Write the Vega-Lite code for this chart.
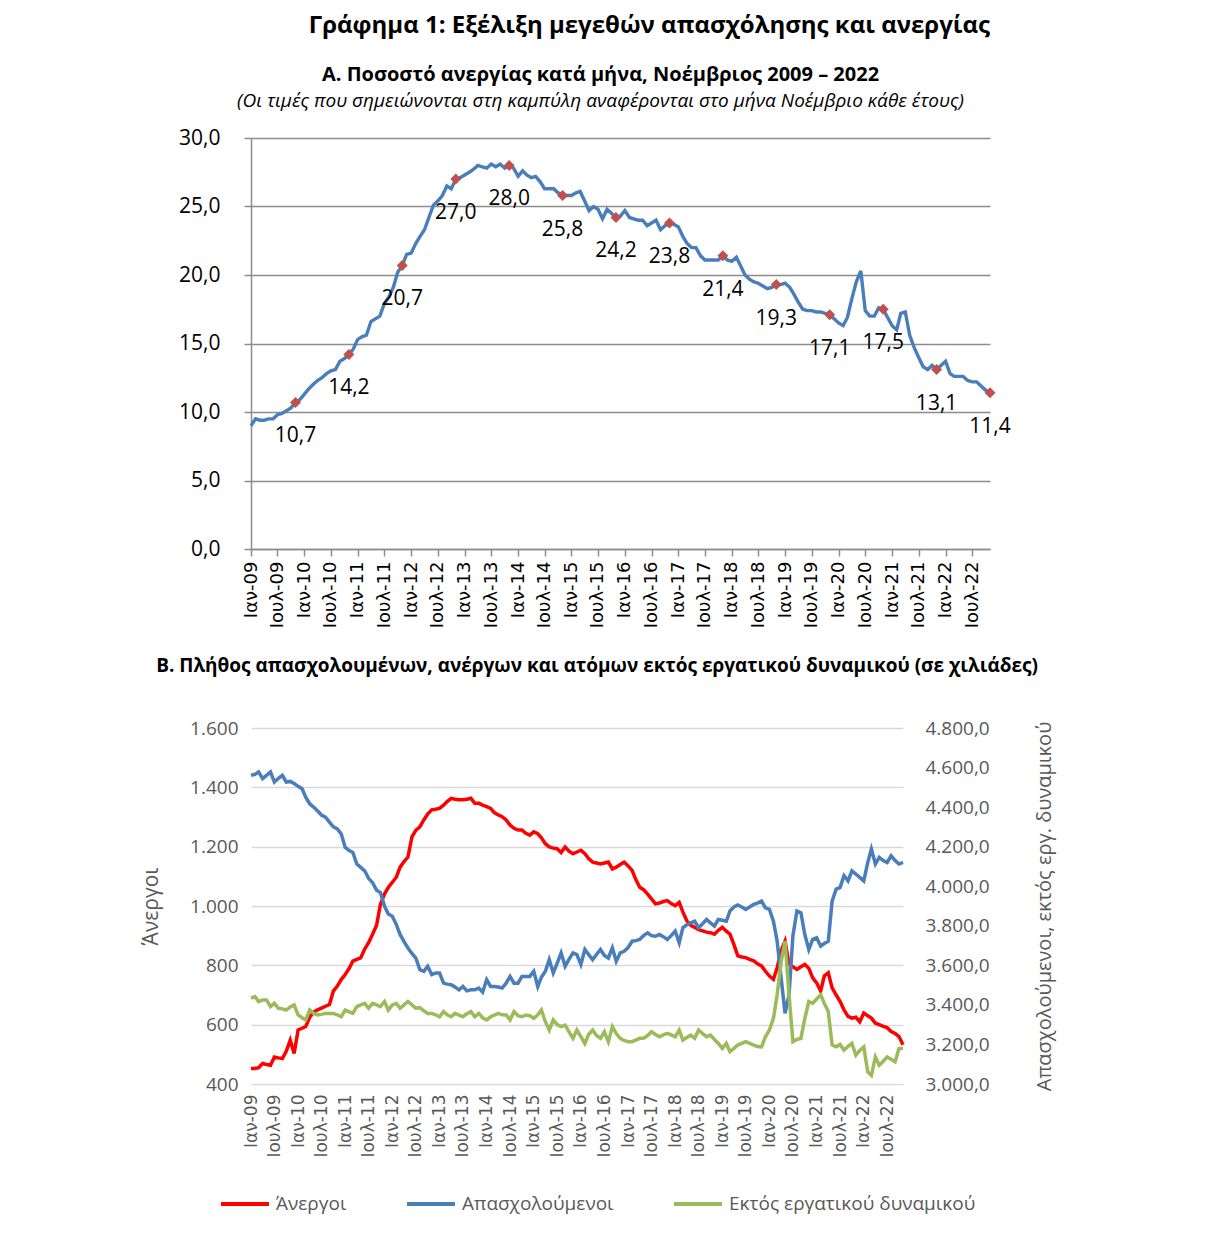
{
  "$schema": "https://vega.github.io/schema/vega-lite/v6.json",
  "padding": {"left": 140, "top": 14, "right": 10, "bottom": 10},
  "background": "white",
  "title": {"text": "Γράφημα 1: Εξέλιξη μεγεθών απασχόλησης και ανεργίας", "fontSize": 24, "fontWeight": "bold", "font": "Open Sans", "color": "black", "anchor": "middle", "offset": 27, "dx": 52},
  "data": {
    "format": {"parse": {"date": "utc:'%Y-%m'"}},
    "values": [
      {"date":"2009-01","u":9.0,"a":452,"e":4561,"o":3434},
      {"date":"2009-02","u":9.5,"a":452,"e":4565,"o":3442},
      {"date":"2009-03","u":9.4,"a":455,"e":4578,"o":3417},
      {"date":"2009-04","u":9.4,"a":469,"e":4544,"o":3425},
      {"date":"2009-05","u":9.5,"a":466,"e":4560,"o":3425},
      {"date":"2009-06","u":9.5,"a":463,"e":4578,"o":3391},
      {"date":"2009-07","u":9.8,"a":491,"e":4527,"o":3408},
      {"date":"2009-08","u":9.9,"a":488,"e":4545,"o":3383},
      {"date":"2009-09","u":10.1,"a":486,"e":4561,"o":3380},
      {"date":"2009-10","u":10.3,"a":510,"e":4527,"o":3374},
      {"date":"2009-11","u":10.7,"a":548,"e":4530,"o":3390},
      {"date":"2009-12","u":10.9,"a":503,"e":4519,"o":3400},
      {"date":"2010-01","u":11.3,"a":582,"e":4505,"o":3349},
      {"date":"2010-02","u":11.7,"a":588,"e":4493,"o":3335},
      {"date":"2010-03","u":12.0,"a":594,"e":4450,"o":3324},
      {"date":"2010-04","u":12.3,"a":625,"e":4417,"o":3374},
      {"date":"2010-05","u":12.5,"a":642,"e":4400,"o":3357},
      {"date":"2010-06","u":12.8,"a":650,"e":4380,"o":3349},
      {"date":"2010-07","u":13.0,"a":656,"e":4360,"o":3352},
      {"date":"2010-08","u":13.1,"a":662,"e":4349,"o":3357},
      {"date":"2010-09","u":13.7,"a":668,"e":4324,"o":3357},
      {"date":"2010-10","u":13.9,"a":713,"e":4300,"o":3357},
      {"date":"2010-11","u":14.2,"a":730,"e":4290,"o":3350},
      {"date":"2010-12","u":14.6,"a":752,"e":4265,"o":3340},
      {"date":"2011-01","u":15.3,"a":769,"e":4196,"o":3374},
      {"date":"2011-02","u":15.5,"a":790,"e":4180,"o":3365},
      {"date":"2011-03","u":15.6,"a":814,"e":4171,"o":3357},
      {"date":"2011-04","u":16.6,"a":820,"e":4112,"o":3391},
      {"date":"2011-05","u":16.8,"a":825,"e":4095,"o":3400},
      {"date":"2011-06","u":17.0,"a":855,"e":4078,"o":3408},
      {"date":"2011-07","u":17.9,"a":876,"e":4040,"o":3383},
      {"date":"2011-08","u":18.4,"a":905,"e":4018,"o":3408},
      {"date":"2011-09","u":19.1,"a":935,"e":3980,"o":3400},
      {"date":"2011-10","u":20.2,"a":1006,"e":3968,"o":3391},
      {"date":"2011-11","u":20.7,"a":1040,"e":3900,"o":3417},
      {"date":"2011-12","u":21.5,"a":1063,"e":3860,"o":3374},
      {"date":"2012-01","u":21.6,"a":1080,"e":3848,"o":3400},
      {"date":"2012-02","u":22.3,"a":1097,"e":3806,"o":3408},
      {"date":"2012-03","u":22.8,"a":1131,"e":3756,"o":3383},
      {"date":"2012-04","u":23.3,"a":1150,"e":3720,"o":3400},
      {"date":"2012-05","u":24.2,"a":1165,"e":3688,"o":3417},
      {"date":"2012-06","u":25.1,"a":1233,"e":3660,"o":3400},
      {"date":"2012-07","u":25.4,"a":1255,"e":3637,"o":3383},
      {"date":"2012-08","u":25.8,"a":1267,"e":3578,"o":3386},
      {"date":"2012-09","u":26.5,"a":1290,"e":3570,"o":3370},
      {"date":"2012-10","u":26.3,"a":1310,"e":3595,"o":3357},
      {"date":"2012-11","u":27.0,"a":1324,"e":3553,"o":3357},
      {"date":"2012-12","u":27.1,"a":1326,"e":3561,"o":3350},
      {"date":"2013-01","u":27.3,"a":1329,"e":3561,"o":3340},
      {"date":"2013-02","u":27.5,"a":1340,"e":3510,"o":3366},
      {"date":"2013-03","u":27.7,"a":1352,"e":3505,"o":3350},
      {"date":"2013-04","u":28.0,"a":1363,"e":3502,"o":3340},
      {"date":"2013-05","u":27.9,"a":1360,"e":3490,"o":3357},
      {"date":"2013-06","u":27.8,"a":1358,"e":3476,"o":3348},
      {"date":"2013-07","u":28.1,"a":1358,"e":3493,"o":3340},
      {"date":"2013-08","u":27.9,"a":1360,"e":3471,"o":3355},
      {"date":"2013-09","u":28.1,"a":1363,"e":3476,"o":3366},
      {"date":"2013-10","u":27.8,"a":1346,"e":3476,"o":3340},
      {"date":"2013-11","u":28.0,"a":1346,"e":3485,"o":3357},
      {"date":"2013-12","u":27.8,"a":1340,"e":3464,"o":3335},
      {"date":"2014-01","u":27.2,"a":1335,"e":3527,"o":3324},
      {"date":"2014-02","u":27.6,"a":1329,"e":3493,"o":3340},
      {"date":"2014-03","u":27.3,"a":1315,"e":3493,"o":3348},
      {"date":"2014-04","u":27.1,"a":1307,"e":3490,"o":3357},
      {"date":"2014-05","u":27.2,"a":1301,"e":3485,"o":3350},
      {"date":"2014-06","u":26.8,"a":1290,"e":3510,"o":3349},
      {"date":"2014-07","u":26.3,"a":1273,"e":3544,"o":3324},
      {"date":"2014-08","u":26.3,"a":1262,"e":3510,"o":3366},
      {"date":"2014-09","u":26.3,"a":1256,"e":3510,"o":3345},
      {"date":"2014-10","u":26.0,"a":1256,"e":3544,"o":3340},
      {"date":"2014-11","u":25.8,"a":1245,"e":3544,"o":3349},
      {"date":"2014-12","u":25.8,"a":1239,"e":3544,"o":3345},
      {"date":"2015-01","u":25.8,"a":1250,"e":3570,"o":3332},
      {"date":"2015-02","u":26.0,"a":1244,"e":3493,"o":3350},
      {"date":"2015-03","u":26.1,"a":1230,"e":3540,"o":3374},
      {"date":"2015-04","u":25.4,"a":1210,"e":3570,"o":3315},
      {"date":"2015-05","u":24.7,"a":1199,"e":3629,"o":3273},
      {"date":"2015-06","u":25.0,"a":1195,"e":3561,"o":3324},
      {"date":"2015-07","u":24.8,"a":1193,"e":3610,"o":3300},
      {"date":"2015-08","u":24.1,"a":1180,"e":3663,"o":3290},
      {"date":"2015-09","u":24.8,"a":1199,"e":3595,"o":3298},
      {"date":"2015-10","u":24.5,"a":1185,"e":3630,"o":3264},
      {"date":"2015-11","u":24.2,"a":1176,"e":3663,"o":3231},
      {"date":"2015-12","u":24.3,"a":1182,"e":3654,"o":3273},
      {"date":"2016-01","u":24.7,"a":1188,"e":3604,"o":3240},
      {"date":"2016-02","u":24.2,"a":1176,"e":3680,"o":3205},
      {"date":"2016-03","u":24.1,"a":1160,"e":3655,"o":3250},
      {"date":"2016-04","u":24.0,"a":1148,"e":3629,"o":3273},
      {"date":"2016-05","u":24.0,"a":1145,"e":3655,"o":3245},
      {"date":"2016-06","u":23.6,"a":1142,"e":3680,"o":3231},
      {"date":"2016-07","u":23.8,"a":1145,"e":3650,"o":3264},
      {"date":"2016-08","u":24.0,"a":1148,"e":3637,"o":3214},
      {"date":"2016-09","u":23.3,"a":1125,"e":3688,"o":3290},
      {"date":"2016-10","u":23.6,"a":1131,"e":3620,"o":3255},
      {"date":"2016-11","u":23.8,"a":1140,"e":3663,"o":3231},
      {"date":"2016-12","u":23.7,"a":1148,"e":3671,"o":3220},
      {"date":"2017-01","u":23.5,"a":1135,"e":3690,"o":3214},
      {"date":"2017-02","u":22.8,"a":1120,"e":3722,"o":3214},
      {"date":"2017-03","u":22.3,"a":1090,"e":3725,"o":3222},
      {"date":"2017-04","u":22.0,"a":1063,"e":3731,"o":3231},
      {"date":"2017-05","u":22.0,"a":1055,"e":3750,"o":3231},
      {"date":"2017-06","u":21.4,"a":1040,"e":3764,"o":3245},
      {"date":"2017-07","u":21.1,"a":1024,"e":3750,"o":3264},
      {"date":"2017-08","u":21.1,"a":1007,"e":3747,"o":3250},
      {"date":"2017-09","u":21.1,"a":1010,"e":3756,"o":3239},
      {"date":"2017-10","u":21.1,"a":1015,"e":3745,"o":3248},
      {"date":"2017-11","u":21.4,"a":1018,"e":3731,"o":3256},
      {"date":"2017-12","u":21.1,"a":1008,"e":3750,"o":3248},
      {"date":"2018-01","u":21.0,"a":1001,"e":3773,"o":3239},
      {"date":"2018-02","u":21.3,"a":1012,"e":3714,"o":3273},
      {"date":"2018-03","u":20.7,"a":980,"e":3790,"o":3222},
      {"date":"2018-04","u":20.0,"a":950,"e":3805,"o":3235},
      {"date":"2018-05","u":19.7,"a":935,"e":3815,"o":3247},
      {"date":"2018-06","u":19.5,"a":928,"e":3823,"o":3231},
      {"date":"2018-07","u":19.4,"a":920,"e":3790,"o":3273},
      {"date":"2018-08","u":19.2,"a":916,"e":3810,"o":3255},
      {"date":"2018-09","u":19.0,"a":912,"e":3832,"o":3239},
      {"date":"2018-10","u":19.1,"a":910,"e":3815,"o":3247},
      {"date":"2018-11","u":19.3,"a":905,"e":3798,"o":3225},
      {"date":"2018-12","u":19.3,"a":918,"e":3832,"o":3205},
      {"date":"2019-01","u":19.4,"a":928,"e":3828,"o":3180},
      {"date":"2019-02","u":19.1,"a":915,"e":3823,"o":3205},
      {"date":"2019-03","u":18.6,"a":905,"e":3875,"o":3163},
      {"date":"2019-04","u":18.0,"a":870,"e":3895,"o":3180},
      {"date":"2019-05","u":17.5,"a":832,"e":3905,"o":3197},
      {"date":"2019-06","u":17.4,"a":828,"e":3895,"o":3205},
      {"date":"2019-07","u":17.4,"a":826,"e":3883,"o":3214},
      {"date":"2019-08","u":17.3,"a":820,"e":3895,"o":3205},
      {"date":"2019-09","u":17.3,"a":815,"e":3908,"o":3197},
      {"date":"2019-10","u":17.2,"a":805,"e":3915,"o":3190},
      {"date":"2019-11","u":17.1,"a":798,"e":3925,"o":3188},
      {"date":"2019-12","u":16.8,"a":780,"e":3891,"o":3239},
      {"date":"2020-01","u":16.5,"a":764,"e":3883,"o":3273},
      {"date":"2020-02","u":16.3,"a":753,"e":3823,"o":3332},
      {"date":"2020-03","u":16.9,"a":792,"e":3722,"o":3451},
      {"date":"2020-04","u":18.3,"a":850,"e":3535,"o":3620},
      {"date":"2020-05","u":19.5,"a":882,"e":3357,"o":3722},
      {"date":"2020-06","u":20.3,"a":803,"e":3451,"o":3451},
      {"date":"2020-07","u":17.4,"a":795,"e":3750,"o":3214},
      {"date":"2020-08","u":17.0,"a":786,"e":3875,"o":3225},
      {"date":"2020-09","u":17.0,"a":795,"e":3866,"o":3231},
      {"date":"2020-10","u":17.6,"a":803,"e":3756,"o":3330},
      {"date":"2020-11","u":17.5,"a":790,"e":3680,"o":3417},
      {"date":"2020-12","u":16.9,"a":758,"e":3731,"o":3408},
      {"date":"2021-01","u":16.3,"a":741,"e":3739,"o":3430},
      {"date":"2021-02","u":16.0,"a":713,"e":3697,"o":3451},
      {"date":"2021-03","u":17.2,"a":764,"e":3710,"o":3408},
      {"date":"2021-04","u":17.3,"a":775,"e":3722,"o":3366},
      {"date":"2021-05","u":15.6,"a":724,"e":3925,"o":3197},
      {"date":"2021-06","u":14.7,"a":700,"e":3985,"o":3188},
      {"date":"2021-07","u":14.0,"a":679,"e":3993,"o":3200},
      {"date":"2021-08","u":13.3,"a":650,"e":4053,"o":3171},
      {"date":"2021-09","u":13.1,"a":628,"e":4027,"o":3190},
      {"date":"2021-10","u":13.4,"a":622,"e":4078,"o":3205},
      {"date":"2021-11","u":13.1,"a":625,"e":4061,"o":3146},
      {"date":"2021-12","u":13.4,"a":610,"e":4045,"o":3170},
      {"date":"2022-01","u":13.7,"a":639,"e":4027,"o":3188},
      {"date":"2022-02","u":12.8,"a":630,"e":4120,"o":3061},
      {"date":"2022-03","u":12.6,"a":622,"e":4188,"o":3044},
      {"date":"2022-04","u":12.6,"a":605,"e":4112,"o":3137},
      {"date":"2022-05","u":12.6,"a":600,"e":4146,"o":3095},
      {"date":"2022-06","u":12.3,"a":594,"e":4130,"o":3115},
      {"date":"2022-07","u":12.2,"a":590,"e":4120,"o":3137},
      {"date":"2022-08","u":12.2,"a":577,"e":4154,"o":3125},
      {"date":"2022-09","u":11.9,"a":570,"e":4130,"o":3112},
      {"date":"2022-10","u":11.6,"a":560,"e":4112,"o":3180},
      {"date":"2022-11","u":11.4,"a":532,"e":4120,"o":3180}
    ]
  },
  "config": {
    "locale": {"number": {"decimal": ",", "thousands": ".", "grouping": [3], "currency": ["", " €"]}},
    "view": {"stroke": null},
    "font": "Open Sans",
    "concat": {"spacing": 179},
    "legend": {"layout": {"bottom": {"anchor": "middle"}}}
  },
  "bounds": "flush",
  "vconcat": [
    {
      "width": 739,
      "height": 411,
      "title": {
        "text": "Α. Ποσοστό ανεργίας κατά μήνα, Νοέμβριος 2009 – 2022",
        "subtitle": "(Οι τιμές που σημειώνονται στη καμπύλη αναφέρονται στο μήνα Νοέμβριο κάθε έτους)",
        "fontSize": 20, "fontWeight": "bold", "color": "black",
        "subtitleFontSize": 19, "subtitleFontStyle": "italic", "subtitleColor": "black",
        "subtitlePadding": 7, "offset": 16, "anchor": "middle", "dx": -20
      },
      "encoding": {
        "x": {
          "field": "date", "type": "temporal",
          "scale": {"type": "utc", "nice": false},
          "axis": {
            "title": null,
            "tickCount": {"interval": "month", "step": 6},
            "labelExpr": "(utcmonth(datum.value) == 0 ? 'Ιαν-' : 'Ιουλ-') + utcFormat(datum.value, '%y')",
            "labelAngle": -90, "labelFont": "DejaVu Sans", "labelFontSize": 18, "labelColor": "black",
            "labelFlush": false, "labelOverlap": false, "labelPadding": 5,
            "grid": false, "domainColor": "#8C8C8C", "domainWidth": 1.5,
            "tickColor": "#8C8C8C", "tickSize": 7, "tickWidth": 1.5
          }
        }
      },
      "layer": [
        {
          "mark": {"type": "line", "color": "#4A7EBB", "strokeWidth": 3.4},
          "encoding": {
            "y": {
              "field": "u", "type": "quantitative",
              "scale": {"domain": [0, 30]},
              "axis": {
                "title": null, "values": [0, 5, 10, 15, 20, 25, 30], "format": ".1f",
                "labelFontSize": 21, "labelColor": "black", "labelPadding": 24,
                "grid": true, "gridColor": "#8C8C8C", "gridWidth": 1.5,
                "domainColor": "#8C8C8C", "domainWidth": 1.5,
                "tickColor": "#8C8C8C", "tickSize": 7, "tickWidth": 1.5
              }
            }
          }
        },
        {
          "transform": [{"filter": "utcmonth(datum.date) == 10"}],
          "mark": {"type": "point", "shape": "diamond", "filled": true, "color": "#C0504D", "size": 120, "opacity": 1},
          "encoding": {"y": {"field": "u", "type": "quantitative"}}
        },
        {
          "transform": [{"filter": "utcmonth(datum.date) == 10"}],
          "mark": {"type": "text", "dy": 34, "fontSize": 21, "color": "black"},
          "encoding": {
            "y": {"field": "u", "type": "quantitative"},
            "text": {"field": "u", "type": "quantitative", "format": ".1f"}
          }
        }
      ]
    },
    {
      "width": 652,
      "height": 356,
      "title": {
        "text": "Β. Πλήθος απασχολουμένων, ανέργων και ατόμων εκτός εργατικού δυναμικού (σε χιλιάδες)",
        "fontSize": 19, "fontWeight": "bold", "color": "black", "offset": 43, "anchor": "middle", "dx": 20
      },
      "encoding": {
        "x": {
          "field": "date", "type": "temporal",
          "scale": {"type": "utc", "nice": false},
          "axis": {
            "title": null,
            "tickCount": {"interval": "month", "step": 6},
            "labelExpr": "(utcmonth(datum.value) == 0 ? 'Ιαν-' : 'Ιουλ-') + utcFormat(datum.value, '%y')",
            "labelAngle": -90, "labelFont": "DejaVu Sans", "labelFontSize": 17, "labelColor": "#595959",
            "labelFlush": false, "labelOverlap": false, "labelPadding": 10,
            "grid": false, "domain": false, "ticks": false
          }
        },
        "color": {
          "field": "series", "type": "nominal",
          "scale": {"domain": ["a", "e", "o"], "range": ["#FF0000", "#4A7EBB", "#9BBB59"]},
          "legend": {
            "orient": "bottom", "direction": "horizontal", "title": null,
            "symbolType": "stroke", "symbolStrokeWidth": 4, "symbolSize": 2300,
            "labelFontSize": 19, "labelColor": "#595959", "labelLimit": 500, "labelOffset": 5,
            "columnPadding": 52, "offset": 20,
            "labelExpr": "datum.label == 'a' ? 'Άνεργοι' : datum.label == 'e' ? 'Απασχολούμενοι' : 'Εκτός εργατικού δυναμικού'"
          }
        }
      },
      "layer": [
        {
          "transform": [{"fold": ["a"], "as": ["series", "value"]}],
          "mark": {"type": "line", "strokeWidth": 3.5},
          "encoding": {
            "y": {
              "field": "value", "type": "quantitative",
              "scale": {"domain": [400, 1600]},
              "axis": {
                "title": "Άνεργοι", "titleFontSize": 21, "titleFontWeight": "normal", "titleColor": "#595959", "titlePadding": 28,
                "values": [400, 600, 800, 1000, 1200, 1400, 1600], "format": ",d",
                "labelFontSize": 19, "labelColor": "#595959", "labelPadding": 13,
                "grid": true, "gridColor": "#D9D9D9", "gridWidth": 1.5, "domain": false, "ticks": false
              }
            }
          }
        },
        {
          "transform": [{"fold": ["e", "o"], "as": ["series", "value"]}],
          "mark": {"type": "line", "strokeWidth": 3.5},
          "encoding": {
            "y": {
              "field": "value", "type": "quantitative",
              "scale": {"domain": [3000, 4800]},
              "axis": {
                "orient": "right",
                "title": "Απασχολούμενοι, εκτός εργ. δυναμικού", "titleFontSize": 20, "titleFontWeight": "normal", "titleColor": "#595959",
                "titleAngle": 270, "titleBaseline": "top", "titlePadding": 45,
                "values": [3000, 3200, 3400, 3600, 3800, 4000, 4200, 4400, 4600, 4800], "format": ",.1f",
                "labelFontSize": 19, "labelColor": "#595959", "labelPadding": 22,
                "grid": false, "domain": false, "ticks": false
              }
            }
          }
        }
      ],
      "resolve": {"scale": {"y": "independent"}}
    }
  ]
}
